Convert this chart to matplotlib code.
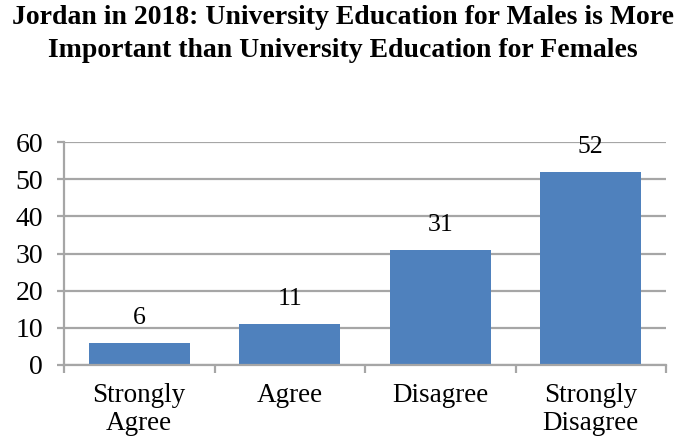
import matplotlib.pyplot as plt
import numpy as np

# data
categories = ['Strongly\nAgree', 'Agree', 'Disagree', 'Strongly\nDisagree']
values = [6, 11, 31, 52]
yticks = [0, 10, 20, 30, 40, 50, 60]
title = ('Jordan in 2018: University Education for Males is More\n'
         'Important than University Education for Females')

plt.rcParams['font.family'] = ['Liberation Serif', 'DejaVu Serif']

fig = plt.figure(figsize=(6.85, 4.45), dpi=100)
ax = fig.add_axes([64 / 685, 1 - 365 / 445, 602 / 685, 223 / 445])

x = np.arange(len(categories))
bars = ax.bar(x, values, width=0.67, color='#4F81BD', zorder=3)

# value labels above the bars
for xi, v in zip(x, values):
    ax.annotate(str(v), (xi, v), xytext=(0, 10), textcoords='offset points',
                ha='center', va='bottom', fontsize=18.5)

ax.set_xlim(-0.5, len(categories) - 0.5)
ax.set_ylim(0, 60)
ax.set_yticks(yticks)
ax.set_yticklabels([str(t) for t in yticks], fontsize=20)
ax.yaxis.grid(True, color='#A6A6A6', linewidth=1.6, zorder=0)

# category labels centered, tick marks between categories
ax.set_xticks(x)
ax.set_xticklabels(categories, fontsize=19.5, linespacing=1.15)
ax.tick_params(axis='x', length=0, pad=13)
ax.set_xticks(np.arange(len(categories) + 1) - 0.5, minor=True)
ax.tick_params(axis='x', which='minor', length=6, width=1.6, color='#A6A6A6')
ax.tick_params(axis='y', length=5, width=1.6, color='#A6A6A6', pad=10)

for s in ['top', 'right']:
    ax.spines[s].set_visible(False)
for s in ['left', 'bottom']:
    ax.spines[s].set_color('#A6A6A6')
    ax.spines[s].set_linewidth(1.6)
    ax.spines[s].set_zorder(4)

fig.text(0.5, 1 - 34 / 445, title, ha='center', va='center', fontsize=20,
         fontweight='bold', linespacing=1.45)

fig.savefig('out.png', dpi=100)
